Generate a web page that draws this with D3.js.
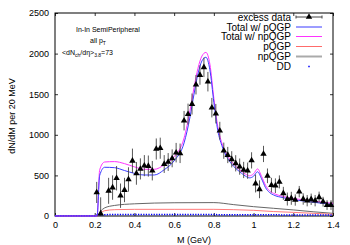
<!DOCTYPE html>
<html><head><meta charset="utf-8">
<script src="https://cdn.jsdelivr.net/npm/d3@7"></script>
<style>body{margin:0;background:#fff}svg{display:block}text{font-family:"Liberation Sans",Arial,sans-serif}</style>
</head><body>
<script>
// ---- data ----
const dataM   = [0.21,0.23,0.27,0.29,0.31,0.33,0.35,0.37,0.39,0.41,0.43,0.45,0.47,0.49,0.51,0.53,0.55,0.57,0.59,0.61,0.63,0.65,0.67,0.69,0.71,0.73,0.75,0.77,0.79,0.81,0.83,0.85,0.87,0.89,0.91,0.93,0.95,0.97,0.99,1.01,1.03,1.05,1.07,1.09,1.11,1.13,1.15,1.17,1.19,1.21,1.23,1.25,1.27,1.29,1.31,1.33,1.35,1.37,1.39];
const dataV   = [290,30,310,350,465,250,320,450,680,525,580,620,615,558,825,835,640,665,710,780,772,1174,1254,1379,1617,1736,1831,1654,1334,1260,1050,804,751,698,649,608,567,558,685,400,329,764,495,380,373,420,279,209,218,197,300,209,189,206,189,230,176,135,135];
const dataErr = [130,200,160,150,150,150,150,150,150,140,130,130,130,120,130,130,110,110,110,120,120,120,130,130,120,120,120,120,120,120,110,100,100,100,100,100,100,100,100,110,110,100,90,90,90,80,80,80,80,70,70,70,70,70,70,70,60,60,60];

const curveM     = [0,0.2,0.212,0.225,0.25,0.3,0.35,0.4,0.45,0.5,0.55,0.6,0.65,0.68,0.7,0.72,0.74,0.76,0.78,0.8,0.82,0.84,0.86,0.88,0.9,0.92,0.94,0.96,0.98,1.0,1.02,1.04,1.06,1.08,1.1,1.15,1.2,1.25,1.3,1.35,1.4];
const totalPQGP  = [0,0,0,500,600,595,560,525,505,505,570,680,900,1220,1500,1750,1910,1955,1800,1400,1050,870,750,670,610,565,525,490,470,490,545,460,350,290,260,225,200,185,170,155,140];
const totalNPQGP = [0,0,0,570,665,670,645,605,575,575,630,730,960,1300,1580,1820,1970,2015,1870,1450,1100,900,780,700,640,590,550,515,495,520,580,490,380,310,280,240,215,200,185,170,155];

const compM  = [0,0.2,0.212,0.23,0.25,0.3,0.4,0.6,0.8,0.9,1.0,1.1,1.2,1.3,1.4];
const pQGP   = [0,0,0,40,65,78,82,82,82,78,70,55,45,33,22];
const npQGP  = [0,0,0,60,100,130,150,163,165,140,115,95,75,52,33];
const ddM    = [0,0.2,0.212,0.4,0.8,1.0,1.4];
const ddV    = [3,3,16,18,17,15,12];

const xTicks = [0,0.2,0.4,0.6,0.8,1.0,1.2,1.4];
const xTickLabels = ["0","0.2","0.4","0.6","0.8","1","1.2","1.4"];
const yTicks = [0,500,1000,1500,2000,2500];
const yTickLabels = ["0","500","1000","1500","2000","2500"];
const legendLabels = ["excess data","Total w/ pQGP","Total w/ npQGP","pQGP","npQGP","DD"];
const infoLines = ["In-In SemiPeripheral","all p","<dN","/dη>","=73"];

// ---- chart ----
const W = 350, H = 245;
const svg = d3.select("body").append("svg").attr("width", W).attr("height", H);
const x = d3.scaleLinear().domain([0,1.4]).range([55,333]);
const y = d3.scaleLinear().domain([0,2500]).range([216,13]);

const fmtX = (d,i)=>xTickLabels[i];
const fmtY = (d,i)=>yTickLabels[i];
const gB = svg.append("g").attr("transform","translate(0,216)")
  .call(d3.axisBottom(x).tickValues(xTicks).tickFormat(fmtX).tickSize(-3).tickPadding(6));
const gT = svg.append("g").attr("transform","translate(0,13)")
  .call(d3.axisTop(x).tickValues(xTicks).tickFormat("").tickSize(-3));
const gL = svg.append("g").attr("transform","translate(55,0)")
  .call(d3.axisLeft(y).tickValues(yTicks).tickFormat(fmtY).tickSize(-3).tickPadding(6));
const gR = svg.append("g").attr("transform","translate(333,0)")
  .call(d3.axisRight(y).tickValues(yTicks).tickFormat("").tickSize(-3));
[gB,gT,gL,gR].forEach(g=>{
  g.select(".domain").remove();
  g.selectAll(".tick line").attr("stroke","#000").attr("stroke-width",0.8);
  g.selectAll("text").attr("font-size",9).attr("fill","#000").attr("font-family","Liberation Sans, Arial, sans-serif");
});
svg.append("rect").attr("x",55).attr("y",13).attr("width",278).attr("height",203)
  .attr("fill","none").attr("stroke","#000").attr("stroke-width",1);

// curves
const line = (xs)=>d3.line().x((d,i)=>x(xs[i])).y(d=>y(d)).curve(d3.curveMonotoneX);
const plot = svg.append("g");
plot.append("path").attr("d",line(compM)(npQGP)).attr("fill","none").attr("stroke","#555").attr("stroke-width",0.9);
plot.append("path").attr("d",line(compM)(pQGP)).attr("fill","none").attr("stroke","#ff6b6b").attr("stroke-width",0.9);
plot.append("path").attr("d",line(ddM)(ddV)).attr("fill","none").attr("stroke","#0000ff").attr("stroke-width",1.5).attr("stroke-dasharray","1.3,1.3");
plot.append("path").attr("d",line(curveM)(totalNPQGP)).attr("fill","none").attr("stroke","#ff33ff").attr("stroke-width",1);
plot.append("path").attr("d",line(curveM)(totalPQGP)).attr("fill","none").attr("stroke","#3b3bff").attr("stroke-width",1);

// data with errors
const tri = d3.symbol().type(d3.symbolTriangle).size(18);
const pts = plot.append("g");
dataM.forEach((m,i)=>{
  const v = dataV[i], e = dataErr[i];
  pts.append("line").attr("x1",x(m)).attr("x2",x(m))
    .attr("y1",y(Math.max(0,v-e))).attr("y2",y(v+e))
    .attr("stroke","#444").attr("stroke-width",0.9);
});
dataM.forEach((m,i)=>{
  pts.append("path").attr("d",tri).attr("transform",`translate(${x(m)},${y(dataV[i])})`).attr("fill","#000");
});

// info text
const info = svg.append("g").attr("font-size",7).attr("fill","#000");
info.append("text").attr("x",76).attr("y",32).text(infoLines[0]);
const t2 = info.append("text").attr("x",90).attr("y",43);
t2.append("tspan").text(infoLines[1]);
t2.append("tspan").attr("font-size",5).attr("dy",1.5).text("T");
const t3 = info.append("text").attr("x",62).attr("y",55);
t3.append("tspan").text(infoLines[2]);
t3.append("tspan").attr("font-size",5).attr("dy",1.5).text("ch");
t3.append("tspan").attr("dy",-1.5).text(infoLines[3]);
t3.append("tspan").attr("font-size",5).attr("dy",1.5).text("3.8");
t3.append("tspan").attr("dy",-1.5).text(infoLines[4]);

// legend
const lg = svg.append("g");
const rowY = [17,27,36.5,46.5,56.5,66.5];
const lx1 = 296, lx2 = 322;
legendLabels.forEach((s,i)=>{
  lg.append("text").attr("x",291).attr("y",rowY[i]+3.5).attr("text-anchor","end")
    .attr("font-size",10).attr("fill","#000").text(s);
});
lg.append("line").attr("x1",lx1).attr("x2",lx2).attr("y1",rowY[0]).attr("y2",rowY[0]).attr("stroke","#444").attr("stroke-width",1);
lg.append("line").attr("x1",lx1).attr("x2",lx1).attr("y1",rowY[0]-1.5).attr("y2",rowY[0]+1.5).attr("stroke","#444");
lg.append("line").attr("x1",lx2).attr("x2",lx2).attr("y1",rowY[0]-1.5).attr("y2",rowY[0]+1.5).attr("stroke","#444");
lg.append("path").attr("d",tri).attr("transform",`translate(${(lx1+lx2)/2},${rowY[0]})`).attr("fill","#000");
const lcols = ["#3b3bff","#ff33ff","#ff6b6b","#aaa"];
const lws = [1,1,1,2];
lcols.forEach((c,k)=>{
  lg.append("line").attr("x1",lx1).attr("x2",lx2).attr("y1",rowY[k+1]).attr("y2",rowY[k+1]).attr("stroke",c).attr("stroke-width",lws[k]);
});
lg.append("rect").attr("x",(lx1+lx2)/2-0.75).attr("y",rowY[5]-0.75).attr("width",1.5).attr("height",1.5).attr("fill","#0000ff");

// axis titles
svg.append("text").attr("x",194).attr("y",243).attr("text-anchor","middle").attr("font-size",9).text("M (GeV)");
svg.append("text").attr("transform","translate(15,116) rotate(-90)").attr("text-anchor","middle").attr("font-size",9).text("dN/dM per 20 MeV");
</script>
</body></html>
